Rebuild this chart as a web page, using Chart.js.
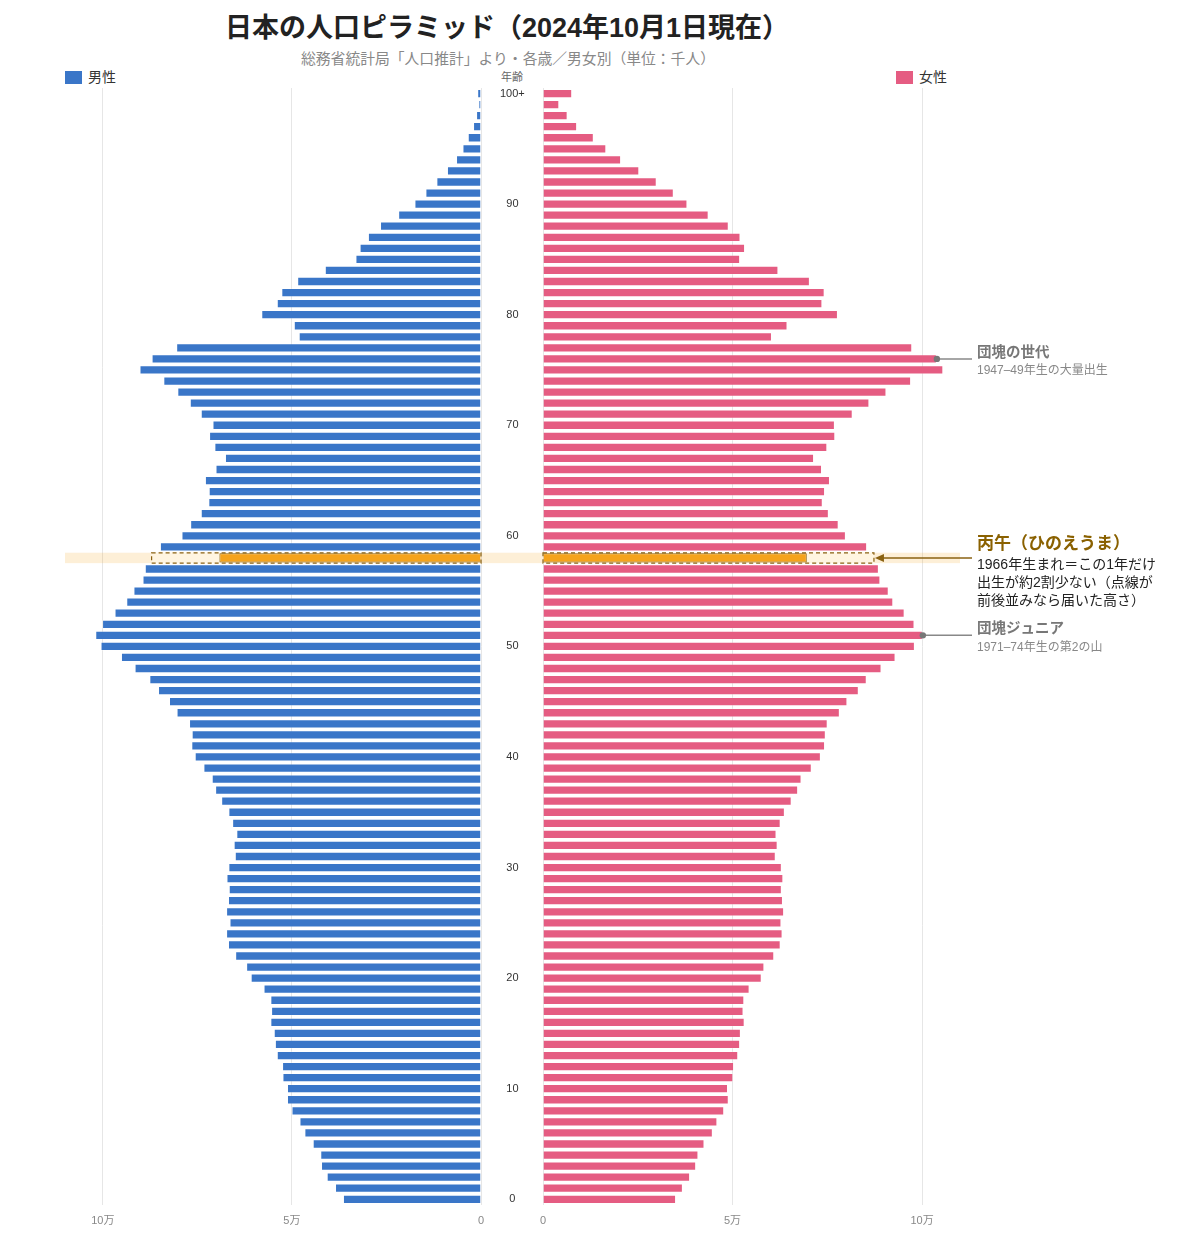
<!DOCTYPE html>
<html lang="ja">
<head>
<meta charset="utf-8">
<title>日本の人口ピラミッド（2024年10月1日現在）</title>
<script src="https://cdn.jsdelivr.net/npm/chart.js@4.4.1/dist/chart.umd.min.js"></script>
<style>
  body { margin: 0; background: #fff; font-family: "Liberation Sans", "Noto Sans CJK JP", sans-serif; }
  #wrap { position: relative; width: 1200px; height: 1255px; overflow: hidden; }
  #title { position: absolute; left: 0; top: 12px; width: 1014px; text-align: center;
           font-size: 27px; line-height: 32px; font-weight: bold; color: #222; }
  #subtitle { position: absolute; left: 0; top: 50px; width: 1016px; text-align: center;
              font-size: 14.8px; line-height: 18px; color: #888; }
  .legend { position: absolute; top: 69px; font-size: 14px; line-height: 16px; color: #333; }
  .legend span { display: inline-block; width: 17px; height: 13px; vertical-align: -2px; margin-right: 6px; }
  #ageTitle { position: absolute; left: 492px; top: 68px; width: 40px; text-align: center; font-size: 11px; color: #666; }
  canvas { position: absolute; top: 0; }
</style>
</head>
<body>
<div id="wrap">
  <div id="title">日本の人口ピラミッド（2024年10月1日現在）</div>
  <div id="subtitle">総務省統計局「人口推計」より・各歳／男女別（単位：千人）</div>
  <div class="legend" id="legMale" style="left:65px"><span></span>男性</div>
  <div class="legend" id="legFemale" style="left:896px"><span></span>女性</div>
  <div id="ageTitle">年齢</div>
  <canvas id="male" width="543" height="1255" style="left:0"></canvas>
  <canvas id="female" width="688" height="1255" style="left:512px"></canvas>
</div>
<script>
// ages 0 .. 100+ (bottom to top)
var ageLabels = [];
for (var i = 0; i <= 100; i++) ageLabels.push(i === 100 ? '100+' : String(i));

// male, age 0 -> 100+
var maleValues = [
  36500, 38600, 40800, 42300, 42500, 44500, 46700, 48000, 50100, 51300,
  51300, 52500, 52600, 54000, 54500, 54800, 55700, 55500, 55700, 57500,
  60900, 62100, 65000, 66900, 67400, 66500, 67400, 66900, 66700, 67300,
  66800, 65100, 65400, 64700, 65800, 66800, 68700, 70300, 71200, 73400,
  75700, 76600, 76500, 77200, 80500, 82500, 85400, 87700, 91600, 95200,
  100600, 102000, 100200, 96900, 93800, 91900, 89500, 88900, 69200, 84900,
  79200, 76900, 74100, 72100, 72000, 73000, 70200, 67700, 70500, 71900,
  71000, 74100, 77000, 80300, 84000, 90300, 87100, 80600, 48200, 49500,
  58100, 54000, 52800, 48600, 41300, 33200, 32100, 29900, 26700, 21900,
  17600, 14700, 11800, 9000, 6600, 4900, 3500, 2100, 1300, 700,
  1000
];

// female, age 0 -> 100+
var femaleValues = [
  35100, 36900, 38800, 40400, 41000, 42600, 44800, 46000, 47800, 49000,
  48800, 50200, 50400, 51500, 52000, 52200, 53200, 52900, 53100, 54500,
  57700, 58400, 61000, 62700, 63200, 62900, 63600, 63300, 63000, 63400,
  63000, 61400, 61900, 61600, 62700, 63800, 65600, 67300, 68200, 70900,
  73300, 74400, 74600, 75100, 78300, 80300, 83300, 85400, 89300, 93000,
  98100, 100200, 98000, 95400, 92400, 91200, 89000, 88600, 69600, 85500,
  79900, 78000, 75400, 73800, 74400, 75700, 73600, 71500, 75000, 77100,
  77000, 81700, 86100, 90600, 97100, 105600, 103900, 97400, 60400, 64500,
  77800, 73700, 74300, 70400, 62100, 52000, 53300, 52100, 49000, 43700,
  38100, 34500, 30000, 25400, 20600, 16700, 13400, 9000, 6500, 4300,
  7700
];

// 丙午 (1966 born = age 58) and the height it would have reached
var hinoeAge = 58;
var hinoeExpected = { male: 87100, female: 87300 };

// callout rows
var dankaiAge = 76;
var dankaiJrAge = 51;

var xTickValues = [0, 50000, 100000];
var xTickLabels = ['0', '5万', '10万'];

var MALE_COLOR = '#3a76c8';
var FEMALE_COLOR = '#e55c82';
var HINOE_FILL = '#f5a31c';
var HINOE_EDGE = '#8a6212';
var HINOE_TEXT = '#8a6100';
var FONT = '"Liberation Sans", "Noto Sans CJK JP", sans-serif';

Chart.defaults.font.family = FONT;

document.querySelector('#legMale span').style.background = MALE_COLOR;
document.querySelector('#legFemale span').style.background = FEMALE_COLOR;

function rowHeight(y) {
  return Math.abs(y.getPixelForValue(1) - y.getPixelForValue(0));
}

// band behind the 丙午 row + dashed "expected" box
var hinoePlugin = {
  id: 'hinoe',
  beforeDatasetsDraw: function(chart, args, opts) {
    var ctx = chart.ctx, area = chart.chartArea, y = chart.scales.y;
    var yc = y.getPixelForValue(hinoeAge);
    var h = rowHeight(y) * 0.94;
    var x0 = area.left, x1 = opts.side === 'male' ? chart.width : area.right;
    ctx.save();
    ctx.fillStyle = 'rgba(245, 166, 35, 0.18)';
    ctx.fillRect(x0, yc - h / 2, x1 - x0, h);
    ctx.restore();
  },
  afterDatasetsDraw: function(chart, args, opts) {
    var ctx = chart.ctx, x = chart.scales.x;
    var bar = chart.getDatasetMeta(0).data[hinoeAge];
    var expected = hinoeExpected[opts.side];
    var actual = chart.data.datasets[0].data[hinoeAge];
    var base = x.getPixelForValue(0);
    var xa = x.getPixelForValue(actual);
    var xe = x.getPixelForValue(expected);
    var top = bar.y - bar.height / 2 - 0.5, hh = bar.height + 1;
    ctx.save();
    ctx.fillStyle = 'rgba(255, 245, 225, 0.95)';
    ctx.fillRect(Math.min(xa, xe), top, Math.abs(xe - xa), hh);
    ctx.setLineDash([4, 3]);
    ctx.strokeStyle = HINOE_EDGE;
    ctx.lineWidth = 1.2;
    ctx.strokeRect(Math.min(base, xe), top, Math.abs(xe - base), hh);
    ctx.restore();
  }
};

// right-hand callouts
var calloutPlugin = {
  id: 'callouts',
  afterDraw: function(chart) {
    var ctx = chart.ctx, area = chart.chartArea, x = chart.scales.x, y = chart.scales.y;
    var tx = area.right + 17;
    var lineEnd = area.right + 12;
    ctx.save();
    ctx.textBaseline = 'middle';
    ctx.textAlign = 'left';

    function dotCallout(age, title, note) {
      var px = x.getPixelForValue(femaleValues[age]);
      var py = y.getPixelForValue(age);
      ctx.strokeStyle = '#888';
      ctx.lineWidth = 1.5;
      ctx.beginPath();
      ctx.moveTo(px, py);
      ctx.lineTo(lineEnd, py);
      ctx.stroke();
      ctx.fillStyle = '#777';
      ctx.beginPath();
      ctx.arc(px, py, 3.2, 0, Math.PI * 2);
      ctx.fill();
      ctx.font = 'bold 14.5px ' + FONT;
      ctx.fillStyle = '#777';
      ctx.fillText(title, tx, py - 6);
      ctx.font = '12px ' + FONT;
      ctx.fillStyle = '#888';
      ctx.fillText(note, tx, py + 12);
    }
    dotCallout(dankaiAge, '団塊の世代', '1947–49年生の大量出生');
    dotCallout(dankaiJrAge, '団塊ジュニア', '1971–74年生の第2の山');

    // 丙午 arrow
    var hy = y.getPixelForValue(hinoeAge);
    var tip = x.getPixelForValue(hinoeExpected.female) + 1;
    ctx.strokeStyle = HINOE_EDGE;
    ctx.fillStyle = HINOE_EDGE;
    ctx.lineWidth = 1.6;
    ctx.beginPath();
    ctx.moveTo(lineEnd, hy);
    ctx.lineTo(tip + 8, hy);
    ctx.stroke();
    ctx.beginPath();
    ctx.moveTo(tip, hy);
    ctx.lineTo(tip + 9, hy - 4);
    ctx.lineTo(tip + 9, hy + 4);
    ctx.closePath();
    ctx.fill();

    ctx.font = 'bold 17px ' + FONT;
    ctx.fillStyle = HINOE_TEXT;
    ctx.fillText('丙午（ひのえうま）', tx, hy - 14);
    ctx.font = '14px ' + FONT;
    ctx.fillStyle = '#222';
    ctx.fillText('1966年生まれ＝この1年だけ', tx, hy + 7);
    ctx.fillText('出生が約2割少ない（点線が', tx, hy + 25);
    ctx.fillText('前後並みなら届いた高さ）', tx, hy + 43);
    ctx.restore();
  }
};

function xScale(reverse) {
  return {
    reverse: reverse,
    min: 0,
    max: 110000,
    grid: { color: '#e6e6e6', drawTicks: false },
    border: { display: false },
    afterBuildTicks: function(axis) {
      axis.ticks = xTickValues.map(function(v) { return { value: v }; });
    },
    ticks: {
      padding: 10,
      color: '#888',
      font: { size: 11 },
      callback: function(v) { return xTickLabels[xTickValues.indexOf(v)]; }
    }
  };
}

function barDataset(label, values, color) {
  return {
    label: label,
    data: values,
    backgroundColor: function(c) { return c.dataIndex === hinoeAge ? HINOE_FILL : color; },
    borderColor: function(c) { return c.dataIndex === hinoeAge ? HINOE_EDGE : 'rgba(255,255,255,0.25)'; },
    borderWidth: 1,
    categoryPercentage: 1,
    barPercentage: 0.84
  };
}

var maleChart = new Chart(document.getElementById('male'), {
  type: 'bar',
  data: { labels: ageLabels, datasets: [barDataset('男性', maleValues, MALE_COLOR)] },
  options: {
    indexAxis: 'y',
    responsive: false,
    animation: false,
    layout: { padding: { left: 65, right: 0, top: 88, bottom: 17 } },
    plugins: { legend: { display: false }, hinoe: { side: 'male' } },
    scales: {
      x: xScale(true),
      y: {
        position: 'right',
        reverse: true,
        grid: { display: false },
        border: { display: false },
        afterFit: function(s) { s.width = 62; },
        ticks: {
          autoSkip: false,
          crossAlign: 'center',
          padding: 11,
          color: '#333',
          font: { size: 11 },
          callback: function(v, i) { return i % 10 === 0 ? ageLabels[i] : ''; }
        }
      }
    }
  },
  plugins: [hinoePlugin]
});

var femaleChart = new Chart(document.getElementById('female'), {
  type: 'bar',
  data: { labels: ageLabels, datasets: [barDataset('女性', femaleValues, FEMALE_COLOR)] },
  options: {
    indexAxis: 'y',
    responsive: false,
    animation: false,
    layout: { padding: { left: 31, right: 240, top: 88, bottom: 17 } },
    plugins: { legend: { display: false }, hinoe: { side: 'female' } },
    scales: {
      x: xScale(false),
      y: { display: false, reverse: true }
    }
  },
  plugins: [hinoePlugin, calloutPlugin]
});
</script>
</body>
</html>
